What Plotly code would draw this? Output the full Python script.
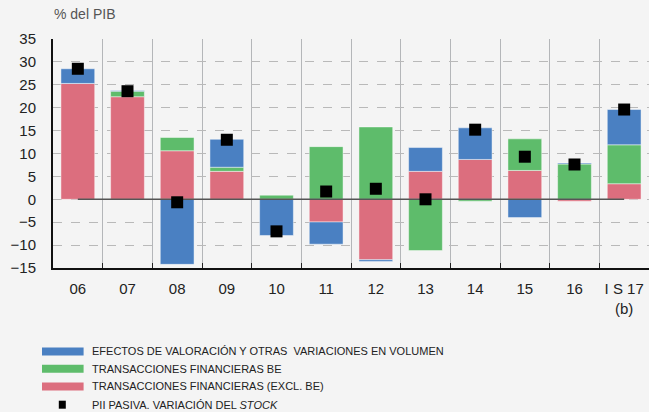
import plotly.graph_objects as go

categories = ["06", "07", "08", "09", "10", "11", "12", "13", "14", "15", "16", "I S 17<br>(b)"]
trans_excl_be = [25.3, 22.4, 10.6, 6.1, 0.0, -4.95, -13.2, 6.1, 8.7, 6.3, -0.4, 3.4]
trans_be = [0.0, 1.2, 2.9, 0.9, 0.9, 11.5, 15.8, -11.2, -0.4, 6.9, 7.7, 8.5]
valoracion = [3.2, 0.15, -14.2, 6.1, -7.9, -4.85, -0.4, 5.2, 6.9, -4.0, 0.2, 7.7]
pii_pasiva = [28.5, 23.6, -0.65, 13.0, -7.0, 1.7, 2.3, 0.0, 15.2, 9.3, 7.6, 19.6]
zero_line = [0] * len(categories)

legend_labels = [
    "EFECTOS DE VALORACIÓN Y OTRAS  VARIACIONES EN VOLUMEN",
    "TRANSACCIONES FINANCIERAS BE",
    "TRANSACCIONES FINANCIERAS (EXCL. BE)",
    "PII PASIVA. VARIACIÓN DEL <i>STOCK</i>",
]

BLUE = "#4a80c2"
GREEN = "#5ebc6b"
RED = "#dc6e7e"
BG = "#f4f4f4"

fig = go.Figure()
edge = dict(color="rgba(255,255,255,0.45)", width=1)
fig.add_trace(go.Bar(x=categories, y=trans_excl_be, marker=dict(color=RED, line=edge), width=0.68))
fig.add_trace(go.Bar(x=categories, y=trans_be, marker=dict(color=GREEN, line=edge), width=0.68))
fig.add_trace(go.Bar(x=categories, y=valoracion, marker=dict(color=BLUE, line=edge), width=0.68))
fig.add_trace(go.Scatter(x=categories, y=zero_line, mode="lines", line=dict(color="#555555", width=1.5)))
fig.add_trace(go.Scatter(x=categories, y=pii_pasiva, mode="markers",
                         marker=dict(symbol="square", size=12, color="black")))

font_main = "Liberation Sans, Arial, sans-serif"
fig.update_layout(
    width=649, height=412,
    margin=dict(l=53, r=0, t=39, b=144, autoexpand=False),
    paper_bgcolor=BG, plot_bgcolor=BG,
    barmode="relative", bargap=0.32,
    showlegend=False,
    font=dict(family=font_main, size=15, color="#222"),
)
fig.update_xaxes(
    range=[-0.5, len(categories) - 0.5],
    tickson="boundaries", showgrid=True, gridcolor="#b4b6b9", gridwidth=1,
    ticks="inside", ticklen=5, tickcolor="#222",
    showline=True, linecolor="#111", linewidth=2,
    tickangle=0, automargin=False,
    ticklabelstandoff=6, tickfont=dict(size=15, color="#222"),
)
fig.update_yaxes(
    range=[-15, 35], dtick=5, tick0=0,
    showgrid=True, gridcolor="#b9b9b9", griddash="dash", gridwidth=1,
    zeroline=False, automargin=False,
    showline=True, linecolor="#111", linewidth=2,
    ticks="", ticklabelstandoff=12, tickfont=dict(size=15, color="#222"),
)

fig.add_annotation(xref="paper", yref="paper", x=-0.002, y=1.065, xanchor="left", yanchor="bottom",
                   text="% del PIB", showarrow=False, font=dict(size=14, color="#555"))

# Custom legend
def py(p):
    return (268.3 - p) / 229.0

def px(p):
    return (p - 52.7) / 596.0

rows = [351.7, 369.0, 386.7, 405.0]
colors = [BLUE, GREEN, RED]
for i, c in enumerate(colors):
    fig.add_shape(type="rect", xref="paper", yref="paper",
                  x0=px(41.7), x1=px(83.3), y0=py(rows[i] + 4), y1=py(rows[i] - 4),
                  fillcolor=c, line=dict(width=0))
fig.add_shape(type="rect", xref="paper", yref="paper",
              x0=px(58.5), x1=px(65.5), y0=py(rows[3] + 4), y1=py(rows[3] - 4),
              fillcolor="black", line=dict(width=0))
for i, t in enumerate(legend_labels):
    fig.add_annotation(xref="paper", yref="paper", x=px(89.5), y=py(rows[i]), xanchor="left", yanchor="middle",
                       text=t, showarrow=False,
                       font=dict(family="Liberation Sans Narrow, Arial Narrow, sans-serif", size=11, color="#222"))

fig.write_html("out.html", config={"displayModeBar": False},
               post_script="document.body.style.margin='0';document.body.style.overflow='hidden';")
